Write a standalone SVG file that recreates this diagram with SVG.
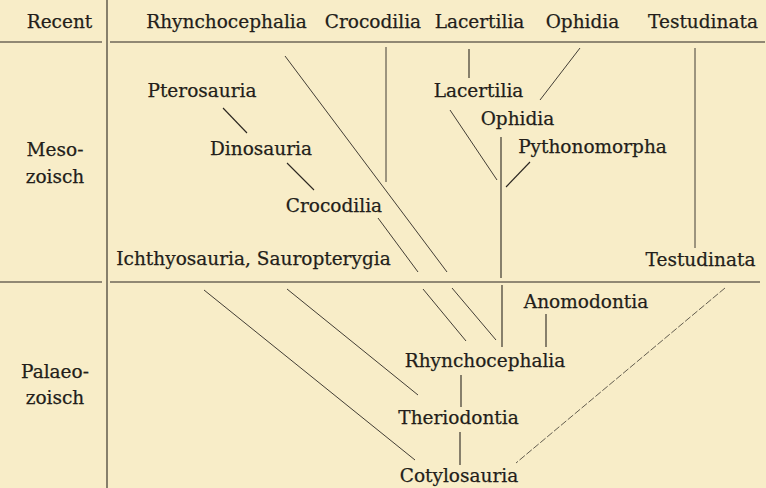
<svg xmlns="http://www.w3.org/2000/svg" width="766" height="488" viewBox="0 0 766 488">
<style>
.bg{fill:#f8edc8}
text{font-family:"DejaVu Serif","Liberation Serif",serif;font-size:18.5px;fill:#231e1a;stroke:#231e1a;stroke-width:0.25;text-anchor:middle}
.ln{stroke:#2a2520;stroke-width:1.1;fill:none}
.fine{stroke:#2e2924;stroke-width:0.9;fill:none}
.faint{stroke:#3e3830;stroke-width:0.8;fill:none;stroke-dasharray:7 2}
</style>
<rect class="bg" x="0" y="0" width="766" height="488"/>
<g id="frame">
<line class="ln" x1="107" y1="0" x2="107" y2="488"/>
<line class="ln" x1="0" y1="42" x2="102" y2="42"/>
<line class="ln" x1="110" y1="42" x2="765" y2="42"/>
<line class="ln" x1="0" y1="282" x2="102" y2="282"/>
<line class="ln" x1="110" y1="282" x2="760" y2="282"/>
</g>
<g id="era-labels">
<text id="recent" x="59.5" y="28">Recent</text>
<text id="meso" x="55" y="156">Meso-</text>
<text id="meso2" x="55" y="183">zoisch</text>
<text id="palaeo" x="55" y="378">Palaeo-</text>
<text id="palaeo2" x="55" y="404">zoisch</text>
</g>
<g id="n-rhyncho-recent"><text x="226.5" y="28">Rhynchocephalia</text></g>
<g id="n-croco-recent"><text x="373" y="28">Crocodilia</text></g>
<g id="n-lacert-recent"><text x="479.5" y="28">Lacertilia</text></g>
<g id="n-ophid-recent"><text x="582.5" y="28">Ophidia</text></g>
<g id="n-testud-recent"><text x="703" y="28">Testudinata</text></g>
<g id="n-pterosauria"><text x="202" y="97">Pterosauria</text></g>
<g id="n-dinosauria"><text x="261" y="155">Dinosauria</text></g>
<g id="n-croco-meso"><text x="334" y="212">Crocodilia</text></g>
<g id="n-ichthyo"><text x="253.5" y="265">Ichthyosauria, Sauropterygia</text></g>
<g id="n-testud-meso"><text x="700.5" y="266">Testudinata</text></g>
<g id="n-lacert-meso"><text x="478.5" y="97">Lacertilia</text></g>
<g id="n-ophid-meso"><text x="517.5" y="125">Ophidia</text></g>
<g id="n-pythono"><text x="592.5" y="153">Pythonomorpha</text></g>
<g id="n-anomodontia"><text x="586" y="308">Anomodontia</text></g>
<g id="n-rhyncho-pal"><text x="485" y="367">Rhynchocephalia</text></g>
<g id="n-theriodontia"><text x="458.5" y="424">Theriodontia</text></g>
<g id="n-cotylosauria"><text x="459" y="482">Cotylosauria</text></g>
<g id="connectors">
<line class="ln" x1="223" y1="108" x2="247" y2="133"/>
<line class="ln" x1="287" y1="163" x2="314" y2="190"/>
<line class="fine" x1="285" y1="56" x2="447" y2="272"/>
<line class="fine" x1="378" y1="218" x2="418" y2="272"/>
<line class="fine" x1="386" y1="47" x2="386" y2="182"/>
<line class="ln" x1="469" y1="49" x2="469" y2="78"/>
<line class="fine" x1="580" y1="48" x2="540" y2="100"/>
<line class="fine" x1="450" y1="110" x2="497" y2="180"/>
<line class="ln" x1="501" y1="137" x2="501" y2="278"/>
<line class="ln" x1="530" y1="162" x2="506" y2="187"/>
<line class="fine" x1="695" y1="48" x2="695" y2="248"/>
<line class="fine" x1="423" y1="289" x2="466" y2="341"/>
<line class="fine" x1="452" y1="288" x2="496" y2="340"/>
<line class="ln" x1="502" y1="285" x2="502" y2="347"/>
<line class="ln" x1="546" y1="314" x2="546" y2="347"/>
<line class="ln" x1="461" y1="375" x2="461" y2="407"/>
<line class="ln" x1="460" y1="432" x2="460" y2="465"/>
<line class="fine" x1="204" y1="290" x2="415" y2="460"/>
<line class="fine" x1="287" y1="289" x2="418" y2="395"/>
<line class="faint" x1="725" y1="288" x2="516" y2="463"/>
</g>
</svg>
